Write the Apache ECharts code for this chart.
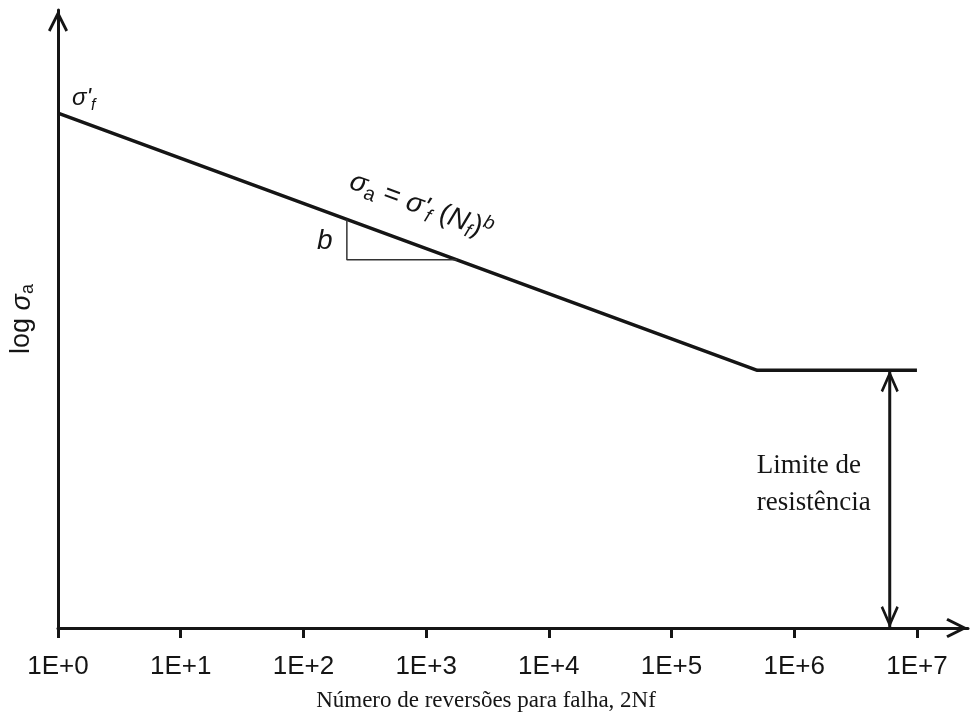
<!DOCTYPE html>
<html>
<head>
<meta charset="utf-8">
<script src="https://cdn.jsdelivr.net/npm/echarts@6/dist/echarts.min.js"></script>
<style>
  html, body { margin: 0; padding: 0; background: #fff; }
  #chart { width: 971px; height: 725px; }
</style>
</head>
<body>
<div id="chart"></div>
<script>
// x = number of reversals 2Nf (plotted on decades), y = log of stress amplitude (relative units)
const decadeTicks = [0, 1, 2, 3, 4, 5, 6, 7];
const curveN = [1, 5e5, 1e7];
const curveLogS = [83.3, 41.7, 41.7];
const slopeTriN = [226, 226, 1786];
const slopeTriLogS = [66.1, 59.6, 59.6];
const enduranceN = [6e6, 6e6];
const enduranceLogS = [0, 41.7];
const xMaxExp = 7.416;

const INK = '#151515';
const CHEVRON = 'path://M0,20 L10,0 L20,20 L17.5,21.5 L10,6.5 L2.5,21.5 Z';
const SANS = "'Liberation Sans', Arial, sans-serif";
const SERIF = "'Liberation Serif', 'Times New Roman', serif";

const toPts = (ns, ys) => ns.map((n, i) => [Math.log10(n), ys[i]]);

const chart = echarts.init(document.getElementById('chart'));

const option = {
  animation: false,
  backgroundColor: '#fff',
  grid: { left: 58, right: 3, top: 10, bottom: 97 },
  xAxis: {
    type: 'value',
    min: 0,
    max: xMaxExp,
    name: 'Número de reversões para falha, 2Nf',
    nameLocation: 'middle',
    nameGap: 61,
    nameTextStyle: {
      fontFamily: SERIF, fontSize: 23, color: INK, padding: [0, 54, 0, 0]
    },
    axisLine: {
      lineStyle: { color: INK, width: 3 },
      symbol: ['none', CHEVRON],
      symbolSize: [20, 22],
      symbolOffset: [0, -11]
    },
    axisTick: {
      customValues: decadeTicks,
      length: 10,
      lineStyle: { color: INK, width: 3 }
    },
    axisLabel: {
      customValues: decadeTicks,
      formatter: v => '1E+' + v,
      margin: 26,
      fontFamily: SANS,
      fontSize: 26,
      color: INK
    },
    splitLine: { show: false }
  },
  yAxis: {
    type: 'value',
    min: 0,
    max: 100,
    name: '{t|log }{s|σ}{sub|a}',
    nameLocation: 'middle',
    nameGap: 21,
    nameTextStyle: {
      rich: {
        t: { fontFamily: SANS, fontSize: 27, color: INK, lineHeight: 30 },
        s: { fontFamily: SANS, fontSize: 27, fontStyle: 'italic', color: INK, lineHeight: 30 },
        sub: { fontFamily: SANS, fontSize: 18, color: INK, verticalAlign: 'bottom', lineHeight: 18 }
      }
    },
    axisLine: {
      lineStyle: { color: INK, width: 3 },
      symbol: ['none', CHEVRON],
      symbolSize: [20, 22],
      symbolOffset: [0, -11]
    },
    axisTick: { show: false },
    axisLabel: { show: false },
    splitLine: { show: false }
  },
  series: [
    {
      name: 'curve',
      type: 'line',
      data: toPts(curveN, curveLogS),
      showSymbol: false,
      silent: true,
      lineStyle: { color: INK, width: 3.5 }
    },
    {
      name: 'slope',
      type: 'line',
      data: toPts(slopeTriN, slopeTriLogS),
      showSymbol: false,
      silent: true,
      lineStyle: { color: '#333', width: 1.5 }
    },
    {
      name: 'endurance',
      type: 'line',
      data: toPts(enduranceN, enduranceLogS).map((p, i) => ({
        value: p,
        symbol: CHEVRON,
        symbolSize: [18, 22],
        symbolRotate: i === 0 ? 180 : 0,
        symbolOffset: i === 0 ? [0, -11] : [0, 11]
      })),
      showAllSymbol: true,
      silent: true,
      clip: false,
      itemStyle: { color: INK },
      lineStyle: { color: INK, width: 3 }
    }
  ]
};

chart.setOption(option);

// annotations anchored to data points
const px = (x, y) => chart.convertToPixel({ gridIndex: 0 }, [x, y]);
const start = px(0, curveLogS[0]);
const knee = px(Math.log10(curveN[1]), curveLogS[1]);
const angle = Math.atan2(knee[1] - start[1], knee[0] - start[0]);
const eqAnchor = px(2.95, curveLogS[0] - (curveLogS[0] - curveLogS[1]) * 2.95 / Math.log10(curveN[1]));
const bAnchor = px(Math.log10(slopeTriN[0]), (slopeTriLogS[0] + slopeTriLogS[1]) / 2);
const limAnchor = px(Math.log10(enduranceN[0]), 20);

const symRich = {
  s: { fontFamily: SANS, fontSize: 24, fontStyle: 'italic', fill: INK, lineHeight: 30 },
  n: { fontFamily: SANS, fontSize: 24, fill: INK, lineHeight: 30 },
  sub: { fontFamily: SANS, fontSize: 16, fontStyle: 'italic', fill: INK, verticalAlign: 'bottom', lineHeight: 16 }
};
const eqRich = {
  s: { fontFamily: SANS, fontSize: 28, fontStyle: 'italic', fill: INK, lineHeight: 34 },
  n: { fontFamily: SANS, fontSize: 28, fill: INK, lineHeight: 34 },
  sub: { fontFamily: SANS, fontSize: 19, fontStyle: 'italic', fill: INK, verticalAlign: 'bottom', lineHeight: 18 },
  suba: { fontFamily: SANS, fontSize: 20, fill: INK, verticalAlign: 'bottom', lineHeight: 22 },
  sup: { fontFamily: SANS, fontSize: 19, fontStyle: 'italic', fill: INK, verticalAlign: 'top', lineHeight: 18 }
};

chart.setOption({
  graphic: [
    {
      type: 'text',
      x: start[0] + 14,
      y: start[1] - 30,
      silent: true,
      style: {
        text: "{s|σ'}{sub|f}",
        rich: symRich,
        align: 'left',
        verticalAlign: 'top'
      }
    },
    {
      type: 'text',
      x: eqAnchor[0] + 1,
      y: eqAnchor[1] - 40,
      rotation: -angle,
      silent: true,
      style: {
        text: "{s|σ}{suba|a}{n| = }{s|σ'}{sub|f}{n| (}{s|N}{sub|f}{n|)}{sup|b}",
        rich: eqRich,
        align: 'center',
        verticalAlign: 'middle'
      }
    },
    {
      type: 'text',
      x: bAnchor[0] - 22,
      y: bAnchor[1] + 2,
      silent: true,
      style: {
        text: 'b',
        font: "italic 28px " + SANS,
        fill: INK,
        align: 'center',
        verticalAlign: 'middle'
      }
    },
    {
      type: 'text',
      x: limAnchor[0] - 133,
      y: limAnchor[1] - 20,
      silent: true,
      style: {
        text: 'Limite de\nresistência',
        font: "27px " + SERIF,
        lineHeight: 37,
        fill: INK,
        align: 'left',
        verticalAlign: 'middle'
      }
    }
  ]
});
</script>
</body>
</html>
